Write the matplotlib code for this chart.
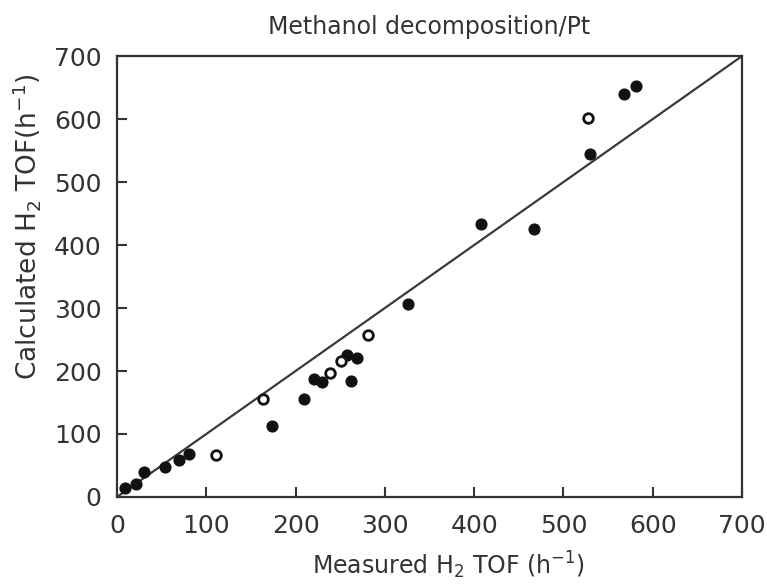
import matplotlib.pyplot as plt

# measured vs calculated H2 TOF (h^-1)
filled_x = [9, 21, 30, 54, 69, 81, 174, 209, 221, 230, 258, 262, 269, 326, 408, 467, 530, 568, 581]
filled_y = [15, 21, 40, 47, 58, 69, 113, 155, 187, 182, 225, 184, 220, 306, 433, 425, 545, 640, 652]
open_x = [111, 163, 239, 251, 281, 527]
open_y = [67, 155, 197, 216, 257, 602]
ticks = [0, 100, 200, 300, 400, 500, 600, 700]

plt.rcParams['font.family'] = ['DejaVu Sans']
txt = '#333333'

fig = plt.figure(figsize=(7.67, 5.84), dpi=100)
ax = fig.add_axes([0.1525, 0.149, 0.815, 0.755])

ax.plot([0, 700], [0, 700], color='#3a3a3a', lw=1.6, zorder=1)
ax.scatter(filled_x, filled_y, s=60, color='#111111', zorder=3)
ax.scatter(open_x, open_y, s=48, facecolor='white', edgecolor='#111111', linewidth=2, zorder=3)

ax.set_xlim(0, 700)
ax.set_ylim(0, 700)
ax.set_xticks(ticks)
ax.set_yticks(ticks)
ax.tick_params(direction='in', length=7, width=1.5, color='#333333',
               labelsize=18, labelcolor=txt, top=False, right=False)
ax.tick_params(axis='x', pad=12)
ax.tick_params(axis='y', pad=11)
for s in ax.spines.values():
    s.set_linewidth(1.6)
    s.set_color('#333333')

ax.set_xlabel('Measured H$_2$ TOF (h$^{-1}$)', fontsize=17, color=txt, va='center')
ax.xaxis.set_label_coords(0.53, -0.154)
ax.set_ylabel('Calculated H$_2$ TOF(h$^{-1}$)', fontsize=19, color=txt, va='center')
ax.yaxis.set_label_coords(-0.145, 0.614)
ax.set_title('Methanol decomposition/Pt', fontsize=17, color=txt, pad=16)

plt.savefig('out.png', dpi=100)
